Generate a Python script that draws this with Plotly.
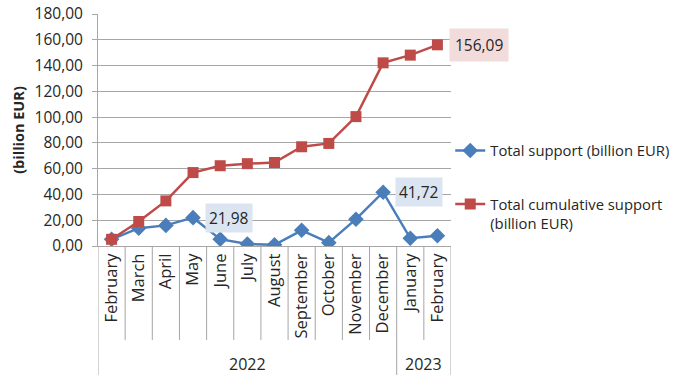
import plotly.graph_objects as go

# Monthly state support, Feb 2022 - Feb 2023
months = ["February", "March", "April", "May", "June", "July", "August",
          "September", "October", "November", "December", "January", "February"]
years = ["2022"] * 11 + ["2023"] * 2
total_support = [5.2, 13.8, 16.0, 21.98, 5.3, 1.6, 0.9, 12.2, 2.6, 20.8, 41.72, 6.0, 7.99]
cumulative_support = [5.2, 19.0, 35.0, 56.98, 62.28, 63.88, 64.78, 76.98, 79.58,
                      100.38, 142.1, 148.1, 156.09]

BLUE = "#4a7ebb"
RED = "#be4b48"
GRID = "#a6a6a6"
TEXT = "#262626"
FONT = "Open Sans"

x = list(range(len(months)))

fig = go.Figure()
fig.add_trace(go.Scatter(
    x=x, y=total_support, mode="lines+markers", name="Total support (billion EUR)",
    line=dict(color=BLUE, width=2.5),
    marker=dict(symbol="diamond", size=12, color=BLUE),
    legend="legend",
))
fig.add_trace(go.Scatter(
    x=x, y=cumulative_support, mode="lines+markers",
    name="Total cumulative support<br>(billion EUR)",
    line=dict(color=RED, width=2.5),
    marker=dict(symbol="square", size=11, color=RED),
    legend="legend2",
))


def fmt(v):
    return f"{v:.2f}".replace(".", ",")


# value callouts
callouts = [
    (total_support, 3, "#dbe5f1", 3),
    (total_support, 10, "#dbe5f1", 3),
    (cumulative_support, 12, "#f2dcdb", 5),
]
annotations = []
for series, i, bg, pad in callouts:
    annotations.append(dict(
        x=x[i], y=series[i], xref="x", yref="y", text=fmt(series[i]),
        showarrow=False, xanchor="left", yanchor="middle", xshift=12,
        bgcolor=bg, borderpad=pad, font=dict(family=FONT, size=15.5, color=TEXT),
    ))

# year row labels
groups = {}
for i, yr in enumerate(years):
    groups.setdefault(yr, []).append(i)
for yr, idx in groups.items():
    annotations.append(dict(
        x=sum(idx) / len(idx), y=-0.51, xref="x", yref="paper", text=yr,
        showarrow=False, xanchor="center", yanchor="middle",
        font=dict(family=FONT, size=16, color=TEXT),
    ))

# category and group dividers below the axis
shapes = []
month_row = -0.405
bottom = -0.56
group_edges = {-0.5, len(months) - 0.5}
for yr, idx in groups.items():
    group_edges.add(idx[0] - 0.5)
for k in range(len(months) + 1):
    edge = k - 0.5
    y1 = bottom if edge in group_edges else month_row
    shapes.append(dict(type="line", xref="x", yref="paper", x0=edge, x1=edge,
                       y0=0, y1=y1, line=dict(color=GRID, width=1)))

fig.update_layout(
    width=686, height=375,
    margin=dict(l=98, r=234, t=14, b=129),
    paper_bgcolor="white", plot_bgcolor="white",
    separators=",.",
    font=dict(family=FONT, color=TEXT),
    showlegend=True,
    legend=dict(x=0.995, y=0.41, xanchor="left", yanchor="middle",
                font=dict(family=FONT, size=14.8, color=TEXT),
                bgcolor="rgba(0,0,0,0)", itemwidth=30),
    legend2=dict(x=0.995, y=0.25, xanchor="left", yanchor="top", valign="top",
                 font=dict(family=FONT, size=14.8, color=TEXT),
                 bgcolor="rgba(0,0,0,0)", itemwidth=30),
    xaxis=dict(
        range=[-0.5, len(months) - 0.5], tickmode="array", tickvals=x, ticktext=months,
        tickangle=-90, showgrid=False, zeroline=False, showline=True, automargin=False,
        linecolor=GRID, linewidth=1, ticks="", tickfont=dict(family=FONT, size=16.5, color=TEXT),
    ),
    yaxis=dict(
        range=[0, 180], dtick=20, tickformat=".2f", showgrid=True, gridcolor=GRID,
        gridwidth=1, zeroline=False, showline=True, linecolor=GRID, linewidth=1,
        automargin=False,
        ticks="outside", ticklen=5, tickcolor=GRID, ticklabelstandoff=6,
        tickfont=dict(family=FONT, size=15.5, color=TEXT),
        title=dict(text="<b>(billion EUR)</b>", font=dict(family=FONT, size=14.5, color=TEXT),
                   standoff=6),
    ),
    annotations=annotations,
    shapes=shapes,
)

fig.write_html("out.html")
